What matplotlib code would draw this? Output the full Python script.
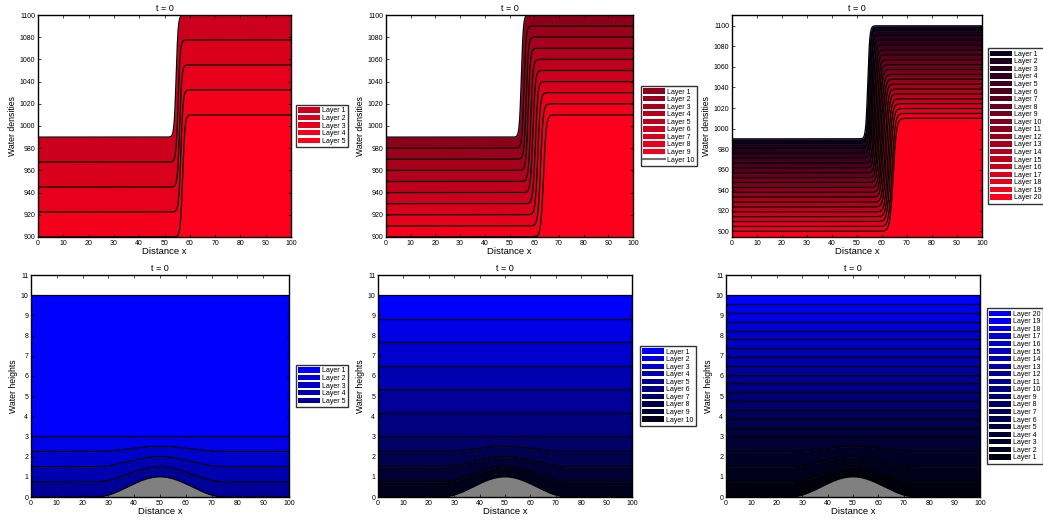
import numpy as np
import matplotlib
matplotlib.use('Agg')
import matplotlib.pyplot as plt
from matplotlib.patches import Patch
from matplotlib.lines import Line2D

plt.rcParams['font.family'] = ['Liberation Sans', 'DejaVu Sans']

# ---------------- data ----------------
# Top row: density interfaces (left level, right level, front position)
rho_left_5 = [990, 967.5, 945, 922.5, 900]
rho_right_5 = [1100, 1077.5, 1055, 1032.5, 1010]
front_5 = [54.6, 55.4, 56.0, 56.5, 57.2]

rho_left_10 = [990, 980, 970, 960, 950, 940, 930, 920, 910, 900]
rho_right_10 = [1100, 1090, 1080, 1070, 1060, 1050, 1040, 1030, 1020, 1010]
front_10 = [54.8, 55.9, 56.8, 57.6, 58.6, 59.5, 60.5, 61.5, 62.6, 63.8]

rho_left_20 = [990, 985.3, 980.5, 975.8, 971.1, 966.3, 961.6, 956.8, 952.1, 947.4,
               942.6, 937.9, 933.2, 928.4, 923.7, 918.9, 914.2, 909.5, 904.7, 900]
rho_right_20 = [1100, 1095.3, 1090.5, 1085.8, 1081.1, 1076.3, 1071.6, 1066.8, 1062.1, 1057.4,
                1052.6, 1047.9, 1043.2, 1038.4, 1033.7, 1028.9, 1024.2, 1019.5, 1014.7, 1010]
front_20 = [54.3, 54.8, 55.4, 55.9, 56.4, 57.0, 57.5, 58.1, 58.6, 59.1,
            59.7, 60.2, 60.7, 61.3, 61.8, 62.4, 62.9, 63.4, 64.0, 64.5]

red_5 = [0.80, 0.85, 0.90, 0.95, 1.00]
red_10 = [0.55, 0.60, 0.65, 0.70, 0.75, 0.80, 0.85, 0.90, 0.95, 1.00]
red_20 = [0.05, 0.10, 0.15, 0.20, 0.25, 0.30, 0.35, 0.40, 0.45, 0.50,
          0.55, 0.60, 0.65, 0.70, 0.75, 0.80, 0.85, 0.90, 0.95, 1.00]

# Bottom row: layer-top heights far from the bump and at the bump crest (x = 50)
h_far_5 = [10, 3.0, 2.25, 1.5, 0.75]
h_peak_5 = [10, 3.0, 2.5, 2.0, 1.5]
h_far_10 = [10, 8.83, 7.67, 6.5, 5.33, 4.17, 3.0, 2.25, 1.5, 0.75]
h_peak_10 = [10, 8.83, 7.67, 6.5, 5.33, 4.17, 3.0, 2.5, 2.0, 1.5]
# 20-layer case listed from layer 1 (bottom) to layer 20 (top)
h_far_20 = [0.75, 1.5, 2.25, 3.0, 3.44, 3.88, 4.31, 4.75, 5.19, 5.63,
            6.06, 6.5, 6.94, 7.38, 7.81, 8.25, 8.69, 9.13, 9.56, 10.0]
h_peak_20 = [1.5, 2.0, 2.5, 3.0, 3.44, 3.88, 4.31, 4.75, 5.19, 5.63,
             6.06, 6.5, 6.94, 7.38, 7.81, 8.25, 8.69, 9.13, 9.56, 10.0]

blue_5 = [1.0, 0.9, 0.8, 0.7, 0.6]
blue_10 = [1.0, 0.9, 0.8, 0.7, 0.6, 0.5, 0.4, 0.3, 0.2, 0.1]
blue_20 = [0.05, 0.10, 0.15, 0.20, 0.25, 0.30, 0.35, 0.40, 0.45, 0.50,
           0.55, 0.60, 0.65, 0.70, 0.75, 0.80, 0.85, 0.90, 0.95, 1.00]  # layer 1..20

bump_peak = 1.0
bump_center = 50
bump_halfwidth = 25

# ---------------- figure ----------------
W, H = 1043, 520
fig = plt.figure(figsize=(W / 100, H / 100), dpi=100)
x = np.linspace(0, 100, 1001)


def px_axes(l, r, t, b):
    return fig.add_axes([l / W, 1 - b / H, (r - l) / W, (b - t) / H])


def style(ax, ylabel, ylim, yticks):
    ax.set_xlim(0, 100)
    ax.set_ylim(*ylim)
    ax.set_xticks(range(0, 101, 10))
    ax.set_yticks(yticks)
    ax.tick_params(direction='in', length=2.5, width=0.5, labelsize=5,
                   top=True, right=True, pad=2)
    for s in ax.spines.values():
        s.set_linewidth(1.0)
    ax.set_title('t = 0', fontsize=6.5, pad=3)
    ax.set_xlabel('Distance x', fontsize=6.8, labelpad=0)
    ax.set_ylabel(ylabel, fontsize=6.3, labelpad=2)


def add_legend(ax, handles, labels, gap_px):
    axw = ax.get_position().width * W
    leg = ax.legend(handles, labels, loc='center left',
                    bbox_to_anchor=(1 + gap_px / axw, 0.5), borderaxespad=0,
                    fontsize=5.0, frameon=True, fancybox=False, edgecolor='k',
                    handlelength=3.1, handleheight=0.8, labelspacing=0.07,
                    handletextpad=0.25, borderpad=0.35)
    leg.get_frame().set_linewidth(1.0)
    return leg


def density_panel(ax, left, right, front, w0, w1, reds, ylim, last_as_line=False):
    n = len(left)
    widths = np.linspace(w0, w1, n)
    curves = [l + (r - l) * 0.5 * (1 + np.tanh((x - f) / w))
              for l, r, f, w in zip(left, right, front, widths)]
    cols = [(r, 0.0, 0.11) for r in reds]
    for k in range(n):
        lower = curves[k + 1] if k < n - 1 else np.full_like(x, ylim[0])
        ax.fill_between(x, lower, curves[k], facecolor=cols[k], edgecolor=cols[k], lw=0.3)
    for c in curves:
        ax.plot(x, c, color='k', lw=0.9)
    style(ax, 'Water densities', ylim, range(900, 1101, 20))
    handles = [Patch(facecolor=c, edgecolor='none') for c in cols]
    if last_as_line:
        handles[-1] = Line2D([], [], color=(0.45, 0.45, 0.45), lw=1.5)
    labels = ['Layer %d' % (k + 1) for k in range(n)]
    return handles, labels


bump = np.where(np.abs(x - bump_center) < bump_halfwidth,
                0.5 * (1 + np.cos(np.pi * (x - bump_center) / bump_halfwidth)), 0.0)
bathy = bump_peak * bump


def height_panel(ax, far, peak, blues):
    # far/peak/blues ordered top layer first
    n = len(far)
    tops = [f + (p - f) * bump for f, p in zip(far, peak)]
    cols = [(0.0, 0.0, b) for b in blues]
    for k in range(n):
        lower = tops[k + 1] if k < n - 1 else bathy
        ax.fill_between(x, lower, tops[k], facecolor=cols[k], edgecolor=cols[k], lw=0.3)
    ax.fill_between(x, 0, bathy, facecolor=(0.5, 0.5, 0.5), edgecolor='none')
    for t in tops:
        ax.plot(x, t, color='k', lw=0.9)
    ax.plot(x, bathy, color='k', lw=0.9)
    style(ax, 'Water heights', (0, 11), range(0, 12))
    return cols


# Top row
ax1 = px_axes(38, 291, 15, 237)
h, l = density_panel(ax1, rho_left_5, rho_right_5, front_5, 0.8, 0.9, red_5, (900, 1100))
add_legend(ax1, h, l, 5)

ax2 = px_axes(386, 633, 15, 237)
h, l = density_panel(ax2, rho_left_10, rho_right_10, front_10, 0.8, 1.1, red_10, (900, 1100),
                     last_as_line=True)
add_legend(ax2, h, l, 8)

ax3 = px_axes(732, 982, 15, 237)
h, l = density_panel(ax3, rho_left_20, rho_right_20, front_20, 0.8, 1.3, red_20, (894.5, 1110.5))
add_legend(ax3, h, l, 6)

# Bottom row
ax4 = px_axes(31, 289, 275, 497)
cols = height_panel(ax4, h_far_5, h_peak_5, blue_5)
add_legend(ax4, [Patch(facecolor=c, edgecolor='none') for c in cols],
           ['Layer %d' % (k + 1) for k in range(5)], 7)

ax5 = px_axes(378, 632, 275, 497)
cols = height_panel(ax5, h_far_10, h_peak_10, blue_10)
add_legend(ax5, [Patch(facecolor=c, edgecolor='none') for c in cols],
           ['Layer %d' % (k + 1) for k in range(10)], 8)

ax6 = px_axes(726, 980, 275, 497)
cols = height_panel(ax6, h_far_20[::-1], h_peak_20[::-1], blue_20[::-1])
add_legend(ax6, [Patch(facecolor=c, edgecolor='none') for c in cols],
           ['Layer %d' % (20 - k) for k in range(20)], 7)

fig.savefig('out.png', dpi=100)
